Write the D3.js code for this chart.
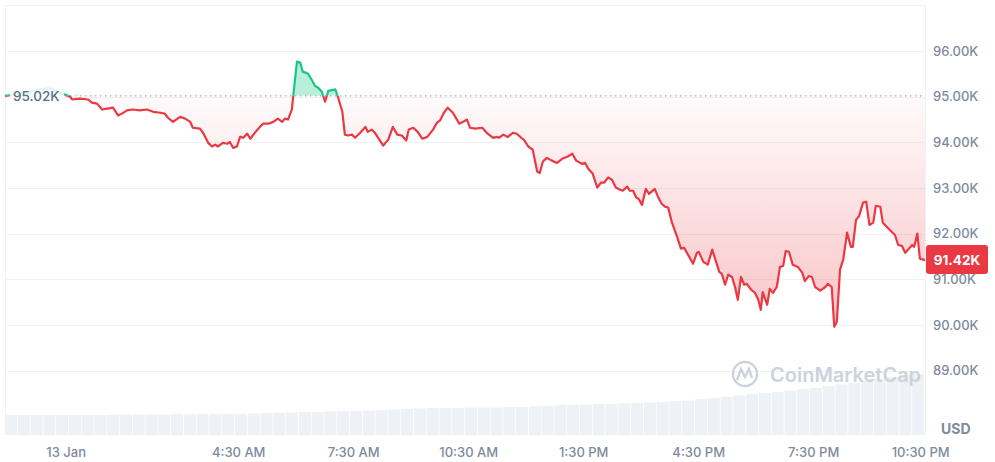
<!doctype html>
<html lang="en">
<head>
<meta charset="UTF-8">
<title>BTC 24h</title>
<script src="https://d3js.org/d3.v7.min.js"></script>
<style>
    body { margin: 0; background: #fff; }
    svg text { font-family: Inter, "Noto Sans", sans-serif; }
</style>
</head>
<body>
<div id="chart-area"></div>

<script>
// minutes after 00:00 on 13 Jan (negative = 12 Jan evening)
const minutes = [-95, -79, -64, -48, -32, -25, -17, -4, 2, 7, 10, 22, 35, 41, 49, 57, 65, 74, 82, 88,
    96, 105, 116, 127, 137, 148, 155, 160, 168, 179, 187, 195, 199, 210, 215, 223, 229, 234, 238, 246,
    253, 257, 262, 268, 273, 278, 284, 289, 296, 304, 309, 317, 325, 332, 339, 343, 348, 354, 356, 362,
    367, 371, 379, 386, 390, 395, 401, 406, 411, 422, 426, 433, 437, 442, 448, 453, 461, 469, 473, 479,
    484, 497, 505, 512, 519, 526, 533, 537, 544, 551, 558, 566, 575, 581, 586, 592, 598, 606, 616, 622,
    628, 633, 641, 652, 659, 669, 675, 678, 685, 692, 700, 706, 713, 717, 724, 731, 738, 742, 747, 753,
    761, 769, 777, 786, 793, 799, 808, 813, 818, 825, 832, 838, 843, 849, 855, 861, 868, 872, 879, 883,
    888, 893, 897, 902, 908, 913, 922, 927, 933, 938, 943, 949, 957, 963, 968, 974, 982, 988, 991, 998,
    1005, 1012, 1018, 1023, 1027, 1032, 1037, 1043, 1048, 1052, 1057, 1062, 1066, 1073, 1079, 1084, 1088, 1091, 1098, 1102,
    1107, 1113, 1118, 1123, 1127, 1132, 1138, 1146, 1153, 1157, 1163, 1168, 1173, 1181, 1189, 1193, 1199, 1203, 1207, 1212,
    1217, 1223, 1229, 1232, 1237, 1242, 1248, 1253, 1258, 1264, 1268, 1275, 1279, 1290, 1298, 1303, 1309, 1314, 1325, 1328,
    1333, 1337, 1345];

const prices = [95020, 95050, 95090, 95130, 95180, 95200, 95130, 95060, 95030, 95000, 94940, 94960, 94940, 94870, 94850, 94720, 94740, 94760, 94590, 94630,
    94700, 94720, 94700, 94720, 94670, 94650, 94630, 94540, 94450, 94560, 94520, 94450, 94320, 94300, 94210, 93990, 93910, 93950, 93910, 93990,
    93970, 94010, 93880, 93910, 94120, 94100, 94190, 94080, 94210, 94340, 94410, 94410, 94450, 94520, 94450, 94520, 94500, 94720, 95000, 95770,
    95750, 95550, 95510, 95350, 95240, 95200, 95110, 94890, 95130, 95160, 95000, 94670, 94170, 94150, 94170, 94100, 94210, 94340, 94230, 94280,
    94210, 93930, 94060, 94340, 94170, 94150, 94040, 94280, 94320, 94230, 94080, 94120, 94280, 94430, 94480, 94650, 94760, 94650, 94410, 94450,
    94500, 94320, 94300, 94320, 94210, 94100, 94120, 94100, 94170, 94120, 94210, 94190, 94100, 94060, 93910, 93840, 93360, 93330, 93580, 93660,
    93600, 93550, 93640, 93690, 93750, 93600, 93530, 93550, 93420, 93310, 93010, 93120, 93120, 93230, 93180, 93010, 92960, 92940, 93030, 92940,
    92940, 92790, 92760, 92630, 92980, 92870, 92980, 92810, 92650, 92590, 92570, 92240, 91930, 91670, 91690, 91540, 91340, 91580, 91600, 91380,
    91320, 91650, 91380, 91160, 91120, 90880, 91100, 91050, 90810, 90550, 91050, 90880, 90900, 90770, 90700, 90550, 90330, 90720, 90440, 90790,
    90700, 90830, 91270, 91290, 91620, 91600, 91320, 91270, 91140, 90960, 91070, 91050, 90830, 90750, 90830, 90900, 90830, 89960, 90070, 91210,
    91430, 92020, 91710, 91710, 92300, 92390, 92680, 92700, 92190, 92240, 92610, 92590, 92240, 92080, 91970, 91750, 91730, 91580, 91750, 91710,
    92000, 91450, 91420];

// 24h volume, billions USD, one value every 20 minutes from -95
const volumes = [20.0, 20.0, 20.0, 20.0, 20.0, 20.0, 20.0, 20.0, 20.3, 20.3, 20.5, 20.5, 20.5, 20.7, 20.7, 20.8, 21.0, 21.0,
    21.0, 21.5, 22.0, 22.0, 22.5, 23.0, 23.0, 23.5, 24.0, 24.0, 24.5, 25.0, 25.5, 26.0, 26.5, 27.0, 27.0, 27.0,
    27.5, 27.5, 27.5, 28.0, 28.0, 28.5, 29.0, 30.0, 30.0, 30.5, 31.0, 31.0, 31.5, 32.0, 32.5, 33.0, 34.0, 34.5,
    36.0, 37.0, 38.0, 39.5, 41.0, 42.0, 43.0, 44.5, 46.0, 47.0, 49.0, 50.5, 52.0, 54.0, 56.0, 58.0, 60.0, 61.0];
const volStart = -95;
const volStep = 20;

const yTicks = [89000, 90000, 91000, 92000, 93000, 94000, 95000, 96000];
const xTickMinutes = [0, 270, 450, 630, 810, 990, 1170, 1350];
const xTickLabels = ['13 Jan', '4:30 AM', '7:30 AM', '10:30 AM', '1:30 PM', '4:30 PM', '7:30 PM', '10:30 PM'];

const openPrice = 95020;
const lastPrice = 91420;

const W = 995, H = 462;
const red = '#ea3943', green = '#16c784';
const grid = '#eff2f5';
const tickColor = '#808a9d';

const svg = d3.select('#chart-area')
    .append('svg')
    .attr('width', W)
    .attr('height', H);

const x = d3.scaleLinear().domain([-95, 1345]).range([5, 925]);
const y = d3.scaleLinear().domain([89000, 97000]).range([370.5, 5.5]);
const yVol = d3.scaleLinear().domain([0, 100]).range([435, 335]);

const data = minutes.map((m, i) => ({ m: m, p: prices[i] }));
const baseY = y(openPrice);

// frame + grid
svg.append('line').attr('x1', 5).attr('x2', 925).attr('y1', 5.5).attr('y2', 5.5).attr('stroke', grid);
svg.append('line').attr('x1', 5.5).attr('x2', 5.5).attr('y1', 5.5).attr('y2', 435).attr('stroke', grid);
svg.append('line').attr('x1', 925.5).attr('x2', 925.5).attr('y1', 5.5).attr('y2', 435).attr('stroke', grid);

svg.selectAll('line.grid')
    .data(yTicks)
    .enter()
    .append('line')
    .attr('class', 'grid')
    .attr('x1', 5).attr('x2', 925)
    .attr('y1', d => Math.round(y(d)) + 0.5)
    .attr('y2', d => Math.round(y(d)) + 0.5)
    .attr('stroke', grid);

// volume bars
svg.selectAll('rect.vol')
    .data(volumes)
    .enter()
    .append('rect')
    .attr('class', 'vol')
    .attr('x', (d, i) => x(volStart + i * volStep))
    .attr('width', (d, i) => Math.min(925, x(volStart + (i + 1) * volStep)) - x(volStart + i * volStep) - 0.8)
    .attr('y', d => yVol(d))
    .attr('height', d => 435 - yVol(d))
    .attr('fill', '#eef1f5');

// watermark
const wm = svg.append('g').attr('fill', 'none').attr('stroke', '#cdd2db').attr('stroke-width', 2.4);
wm.append('circle').attr('cx', 745).attr('cy', 374).attr('r', 12);
wm.append('path').attr('d', 'M737,380 L741,369 L745,377 L749,369 L752,378');
svg.append('text')
    .attr('x', 770).attr('y', 382)
    .attr('font-size', 20).attr('font-weight', 600)
    .attr('fill', '#cdd2db')
    .text('CoinMarketCap');

// gradient for red fill
const defs = svg.append('defs');
const grad = defs.append('linearGradient')
    .attr('id', 'redGrad')
    .attr('gradientUnits', 'userSpaceOnUse')
    .attr('x1', 0).attr('x2', 0)
    .attr('y1', baseY).attr('y2', y(d3.min(prices)));
grad.append('stop').attr('offset', 0).attr('stop-color', red).attr('stop-opacity', 0.02);
grad.append('stop').attr('offset', 1).attr('stop-color', red).attr('stop-opacity', 0.3);

defs.append('clipPath').attr('id', 'above')
    .append('rect').attr('x', 0).attr('y', 0).attr('width', W).attr('height', baseY);
defs.append('clipPath').attr('id', 'below')
    .append('rect').attr('x', 0).attr('y', baseY).attr('width', W).attr('height', H - baseY);

const area = d3.area().x(d => x(d.m)).y0(baseY).y1(d => y(d.p));
const line = d3.line().x(d => x(d.m)).y(d => y(d.p));

svg.append('path').datum(data).attr('d', area)
    .attr('fill', green).attr('fill-opacity', 0.3)
    .attr('clip-path', 'url(#above)');
svg.append('path').datum(data).attr('d', area)
    .attr('fill', 'url(#redGrad)')
    .attr('clip-path', 'url(#below)');

// baseline (open price)
svg.append('line')
    .attr('x1', 5).attr('x2', 925)
    .attr('y1', baseY).attr('y2', baseY)
    .attr('stroke', '#a1a7bb')
    .attr('stroke-width', 1.3)
    .attr('stroke-dasharray', '1.3 3.7');

svg.append('path').datum(data).attr('d', line)
    .attr('fill', 'none').attr('stroke', green).attr('stroke-width', 2.2)
    .attr('stroke-linejoin', 'round')
    .attr('clip-path', 'url(#above)');
svg.append('path').datum(data).attr('d', line)
    .attr('fill', 'none').attr('stroke', red).attr('stroke-width', 2.2)
    .attr('stroke-linejoin', 'round')
    .attr('clip-path', 'url(#below)');

// open price label
svg.append('rect')
    .attr('x', 10).attr('y', 86).attr('width', 54).attr('height', 22)
    .attr('fill', '#fff').attr('fill-opacity', 0.85);
svg.append('text')
    .attr('x', 13).attr('y', baseY).attr('dy', '0.35em')
    .attr('font-size', 13.5).attr('font-weight', 500)
    .attr('fill', '#616e85')
    .text((openPrice / 1000).toFixed(2) + 'K');

// y axis
const yAxis = svg.append('g')
    .attr('transform', 'translate(925,0)')
    .call(d3.axisRight(y).tickValues(yTicks).tickSize(0).tickPadding(8)
        .tickFormat(d => (d / 1000).toFixed(2) + 'K'));
yAxis.select('.domain').remove();
yAxis.selectAll('text')
    .attr('font-family', 'Inter, sans-serif')
    .attr('font-size', 13).attr('font-weight', 500)
    .attr('fill', tickColor);

// x axis
const xAxis = svg.append('g')
    .attr('transform', 'translate(0,442)')
    .call(d3.axisBottom(x).tickValues(xTickMinutes).tickSize(0).tickPadding(6)
        .tickFormat((d, i) => xTickLabels[i]));
xAxis.select('.domain').remove();
xAxis.selectAll('text')
    .attr('font-family', 'Inter, sans-serif')
    .attr('font-size', 13).attr('font-weight', 500)
    .attr('fill', tickColor)
    .attr('dx', (d, i) => i === xTickLabels.length - 1 ? -8 : 0);

// USD
svg.append('text')
    .attr('x', 941).attr('y', 434)
    .attr('font-size', 14).attr('font-weight', 700)
    .attr('fill', tickColor)
    .text('USD');

// last price badge
svg.append('rect')
    .attr('x', 926).attr('y', y(lastPrice) - 15)
    .attr('width', 62).attr('height', 29).attr('rx', 3)
    .attr('fill', red);
svg.append('text')
    .attr('x', 957).attr('y', y(lastPrice)).attr('dy', '0.35em')
    .attr('text-anchor', 'middle')
    .attr('font-size', 13.5).attr('font-weight', 700)
    .attr('fill', '#fff')
    .text((lastPrice / 1000).toFixed(2) + 'K');
</script>

</body>
</html>
